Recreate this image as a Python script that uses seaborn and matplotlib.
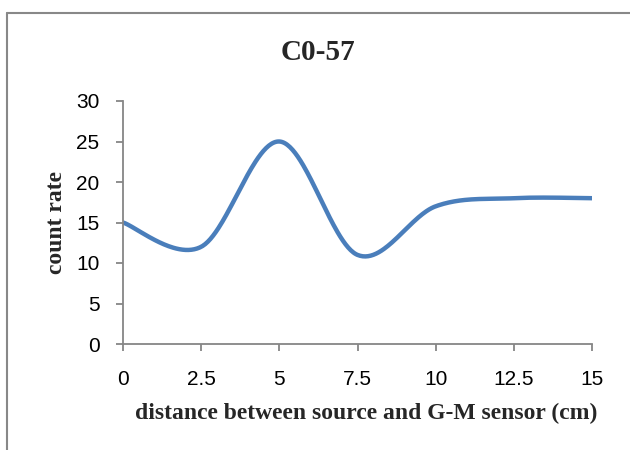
import numpy as np
import pandas as pd
import matplotlib
matplotlib.use("Agg")
import matplotlib.pyplot as plt
import seaborn as sns
from matplotlib.lines import Line2D

distance = [0, 2.5, 5, 7.5, 10, 12.5, 15]
count_rate = [15, 12, 25, 11, 17, 18, 18]
x_ticks = [0, 2.5, 5, 7.5, 10, 12.5, 15]
x_tick_labels = ["0", "2.5", "5", "7.5", "10", "12.5", "15"]
y_ticks = [0, 5, 10, 15, 20, 25, 30]
title = "C0-57"
x_label = "distance between source and G-M sensor (cm)"
y_label = "count rate"


def excel_smooth(xs, ys, n=60):
    """Excel-style smoothed line: cubic Bezier segments with 1/6 tangents."""
    pts = np.column_stack([xs, ys]).astype(float)
    out = []
    m = len(pts)
    for i in range(m - 1):
        p0 = pts[max(i - 1, 0)]
        p1 = pts[i]
        p2 = pts[i + 1]
        p3 = pts[min(i + 2, m - 1)]
        c1 = p1 + (p2 - p0) / 6.0
        c2 = p2 - (p3 - p1) / 6.0
        t = np.linspace(0, 1, n)[:, None]
        seg = ((1 - t) ** 3) * p1 + 3 * ((1 - t) ** 2) * t * c1 + 3 * (1 - t) * t ** 2 * c2 + t ** 3 * p2
        out.append(seg if i == 0 else seg[1:])
    return np.vstack(out)


curve = excel_smooth(distance, count_rate)
df = pd.DataFrame({"x": curve[:, 0], "y": curve[:, 1]})

sns.set_theme(style="white")
plt.rcParams["font.family"] = ["Liberation Sans", "DejaVu Sans"]

fig = plt.figure(figsize=(6.3, 4.5), dpi=100)
ax = fig.add_axes([123 / 630, 1 - 344 / 450, (592 - 123) / 630, (344 - 101) / 450])

sns.lineplot(data=df, x="x", y="y", ax=ax, color="#4A7EBB", linewidth=3.2,
             sort=False, estimator=None, solid_capstyle="round")

ax.set_xlim(0, 15)
ax.set_ylim(0, 30)
ax.set_xticks(x_ticks)
ax.set_xticklabels(x_tick_labels)
ax.set_yticks(y_ticks)

gray = "#868686"
for s in ["top", "right"]:
    ax.spines[s].set_visible(False)
for s in ["left", "bottom"]:
    ax.spines[s].set_color(gray)
    ax.spines[s].set_linewidth(1.3)
ax.tick_params(axis="both", which="major", direction="out", length=5, width=1.3,
               color=gray, labelsize=15, labelcolor="black",
               bottom=True, left=True)
ax.tick_params(axis="x", pad=14)
ax.tick_params(axis="y", pad=12)
ax.grid(False)

serif = ["Liberation Serif", "DejaVu Serif"]
ax.set_xlabel("")
ax.set_ylabel("")
fig.text(366 / 630, 1 - 413 / 450, x_label, ha="center", va="center",
         fontsize=17, fontweight="bold", family=serif)
fig.text(57 / 630, 1 - 222 / 450, y_label, ha="center", va="center",
         rotation=90, fontsize=17, fontweight="bold", family=serif)
fig.text(318 / 630, 1 - 52 / 450, title, ha="center", va="center",
         fontsize=21, fontweight="bold", family=serif)

# chart-area border (partially visible)
fig.add_artist(Line2D([7 / 630, 7 / 630], [0, 1 - 13 / 450], transform=fig.transFigure,
                      color="#888888", linewidth=1.5))
fig.add_artist(Line2D([7 / 630, 1], [1 - 13 / 450, 1 - 13 / 450], transform=fig.transFigure,
                      color="#888888", linewidth=1.5))

fig.savefig("out.png", dpi=100)
